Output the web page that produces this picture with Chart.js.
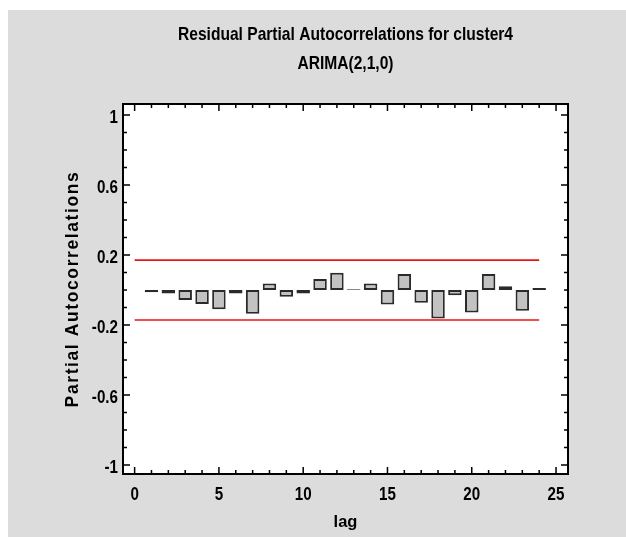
<!DOCTYPE html>
<html><head><meta charset="utf-8">
<script src="https://cdn.jsdelivr.net/npm/chart.js@4.4.0/dist/chart.umd.min.js"></script>
<style>
html,body{margin:0;padding:0;background:#fff;width:626px;height:537px;overflow:hidden}
#wrap{position:absolute;left:8px;top:10px;width:618px;height:527px;background:#dcdcdc}
canvas{display:block}
</style></head><body>
<div id="wrap"><canvas id="c" width="618" height="527"></canvas></div>
<script>
const titleLines = ['Residual Partial Autocorrelations for cluster4', 'ARIMA(2,1,0)'];
const xTitle = 'lag';
const yTitle = 'Partial Autocorrelations';
const lags = [1,2,3,4,5,6,7,8,9,10,11,12,13,14,15,16,17,18,19,20,21,22,23,24];
const pacf = [-0.012,-0.02,-0.057,-0.08,-0.109,-0.019,-0.135,0.038,-0.038,-0.02,0.063,0.099,
              0.004,0.038,-0.082,0.091,-0.072,-0.162,-0.029,-0.128,0.091,0.021,-0.118,0.011];
const limitLags = [0, 24];
const upperLimit = [0.171, 0.171];
const lowerLimit = [-0.171, -0.171];
const yTickLabels = ['1','0.6','0.2','-0.2','-0.6','-1'];
const xTickLabels = ['0','5','10','15','20','25'];

const sans = '"Liberation Sans", Arial, sans-serif';
const NARROW = 0.82;

// draw text of a chart element horizontally condensed (Arial Narrow look)
function condensed(fn, k) {
  return function (...args) {
    const c = this.ctx;
    const of = CanvasRenderingContext2D.prototype.fillText;
    c.fillText = function (t, x, y) { this.save(); this.translate(x, y); this.scale(k, 1); of.call(this, t, 0, 0); this.restore(); };
    try { return fn.apply(this, args); } finally { delete c.fillText; }
  };
}
function spaced(fn, sp) {
  return function (...args) {
    const c = this.ctx; c.save(); c.letterSpacing = sp;
    try { return fn.apply(this, args); } finally { c.restore(); }
  };
}

const plotBg = {
  id: 'plotBg',
  beforeDraw(chart) {
    const {ctx, chartArea: a} = chart;
    ctx.save(); ctx.fillStyle = '#fff';
    ctx.fillRect(a.left, a.top, a.right - a.left, a.bottom - a.top);
    ctx.restore();
    const {x, y} = chart.scales;
    if (!y._patched) { y.drawTitle = spaced(y.drawTitle, '1.6px'); y.drawLabels = condensed(y.drawLabels, NARROW); y._patched = true; }
    if (!x._patched) { x.drawLabels = condensed(x.drawLabels, NARROW); x._patched = true; }
    const tb = chart.titleBlock;
    if (tb && !tb._patched) { tb.draw = condensed(tb.draw, NARROW); tb._patched = true; }
  }
};
const frame = {
  id: 'frame',
  afterDatasetsDraw(chart) {
    const {ctx, chartArea: a, scales: {x, y}} = chart;
    ctx.save();
    ctx.strokeStyle = '#000'; ctx.lineWidth = 1.5;
    ctx.beginPath();
    y.ticks.forEach(t => {
      const p = y.getPixelForValue(t.value);
      const L = t.label !== '' ? 7 : 4;
      ctx.moveTo(a.left, p); ctx.lineTo(a.left + L, p);
      ctx.moveTo(a.right, p); ctx.lineTo(a.right - L, p);
    });
    x.ticks.forEach(t => {
      const p = x.getPixelForValue(t.value);
      const L = t.label !== '' ? 7 : 4;
      ctx.moveTo(p, a.bottom); ctx.lineTo(p, a.bottom - L);
      ctx.moveTo(p, a.top); ctx.lineTo(p, a.top + L);
    });
    ctx.stroke();
    ctx.lineWidth = 2;
    ctx.strokeRect(a.left, a.top, a.right - a.left, a.bottom - a.top);
    ctx.restore();
  }
};

new Chart(document.getElementById('c'), {
  type: 'bar',
  data: {
    datasets: [
      { type: 'line', data: limitLags.map((l, i) => ({x: l, y: upperLimit[i]})), borderColor: 'rgb(235,20,20)', borderWidth: 1.6, pointRadius: 0, fill: false },
      { type: 'line', data: limitLags.map((l, i) => ({x: l, y: lowerLimit[i]})), borderColor: 'rgb(235,20,20)', borderWidth: 1.6, pointRadius: 0, fill: false },
      { type: 'bar', data: lags.map((l, i) => ({x: l, y: pacf[i]})), backgroundColor: '#c2c2c2', borderColor: '#2a2a2a', borderWidth: 2, borderSkipped: false, barPercentage: 0.8, categoryPercentage: 1 }
    ]
  },
  options: {
    responsive: false, animation: false, devicePixelRatio: 1,
    layout: { padding: { left: 0, right: 58, top: 0, bottom: 0 } },
    plugins: {
      legend: { display: false }, tooltip: { enabled: false },
      title: { display: true, text: titleLines, fullSize: false, color: '#000',
        font: { family: sans, weight: 'bold', size: 19, lineHeight: 29 / 19 },
        padding: { top: 10.5, bottom: 25.5 } }
    },
    scales: {
      x: { type: 'linear', position: 'bottom', min: -0.69, max: 25.71, offset: false,
        afterFit: s => { s.height = 63; },
        grid: { display: false, drawTicks: false, offset: false }, border: { display: false },
        ticks: { stepSize: 1, includeBounds: false, autoSkip: false, maxRotation: 0, padding: 12, color: '#000',
          font: { family: sans, weight: 'bold', size: 18.5, lineHeight: 1 },
          callback: v => { const s = String(Math.round(v)); return xTickLabels.includes(s) && Math.abs(v - Math.round(v)) < 1e-6 ? s : ''; } },
        title: { display: true, text: xTitle, color: '#000', font: { family: sans, weight: 'bold', size: 16.5, lineHeight: 1 }, padding: { top: 0, bottom: 6.75 } }
      },
      y: { type: 'linear', position: 'left', min: -1.051, max: 1.063,
        afterFit: s => { s.width = 115; },
        grid: { display: false, drawTicks: false }, border: { display: false },
        ticks: { stepSize: 0.1, includeBounds: false, autoSkip: false, padding: 5, labelOffset: 3, color: '#000',
          font: { family: sans, weight: 'bold', size: 18.5, lineHeight: 1 },
          callback: v => { const s = String(Math.round(v * 10) / 10); return yTickLabels.includes(s) ? s : ''; } },
        title: { display: true, text: yTitle, color: '#000', font: { family: sans, weight: 'bold', size: 17.5, lineHeight: 1 }, padding: { top: 56.5, bottom: 0 } }
      }
    }
  },
  plugins: [plotBg, frame]
});
</script>
</body></html>
